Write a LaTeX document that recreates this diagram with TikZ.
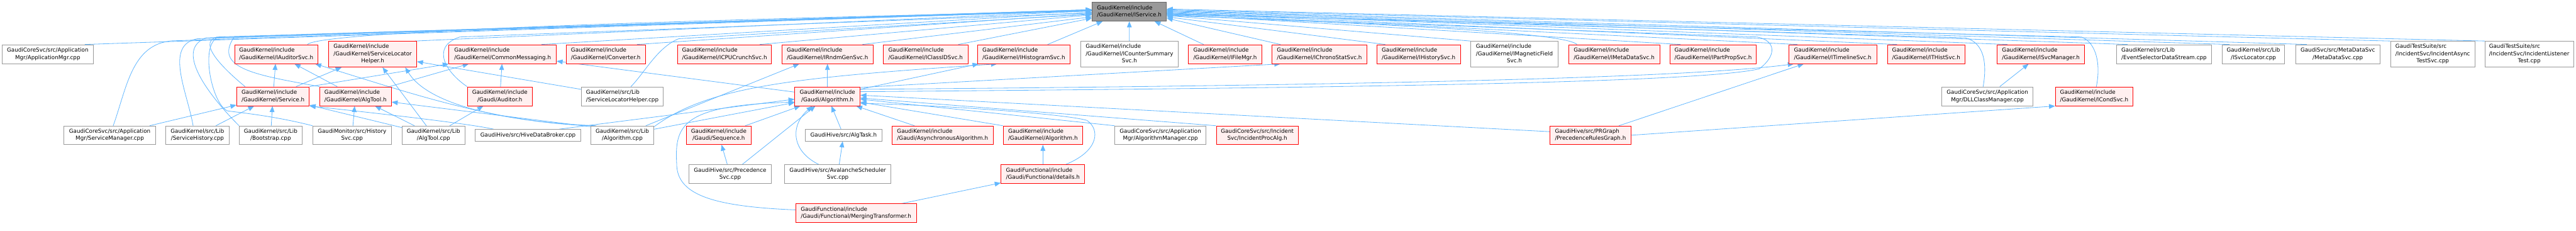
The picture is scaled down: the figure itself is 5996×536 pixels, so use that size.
\documentclass[tikz,border=0pt]{standalone}
\usepackage{fontspec}
\setmainfont{DejaVu Sans}
\usetikzlibrary{arrows.meta}
\pgfdeclarelayer{bg}
\pgfdeclarelayer{edgelayer}
\pgfsetlayers{bg,edgelayer,main}
\definecolor{edgeblue}{HTML}{63B8FF}
\definecolor{redfill}{HTML}{FFF0F0}
\definecolor{grayborder}{HTML}{999999}
\definecolor{topfill}{HTML}{999999}
\definecolor{topborder}{HTML}{666666}
\newcommand\twoL[2]{\begin{tabular}{@{}l@{}}#1\\\multicolumn{1}{@{}c@{}}{#2}\end{tabular}}
\newcommand\threeL[3]{\begin{tabular}{@{}l@{}}#1\\#2\\\multicolumn{1}{@{}c@{}}{#3}\end{tabular}}
\begin{document}
\begin{tikzpicture}[x=1pt,y=-1pt,
  box/.style={rectangle, draw, line width=1.2pt, inner sep=0pt, text=black,
    font=\fontsize{12.85}{16.7}\selectfont},
  rbox/.style={box, draw=red, fill=redfill},
  wbox/.style={box, draw=grayborder, fill=white},
  gbox/.style={box, draw=topborder, fill=topfill},
  sz/.style 2 args={minimum width=#1pt, minimum height=#2pt},
  edge/.style={draw=edgeblue, line width=1.2pt, -{Triangle[length=14pt,width=11pt]}},
]
\begin{pgfonlayer}{bg}
\fill[white] (0,0) rectangle (5996,536);
\end{pgfonlayer}
\useasboundingbox (0,0) rectangle (5996,536);

% ---------- row 1
\node[gbox,sz={173}{44}] (ISvc) at (2628.5,27) {\twoL{GaudiKernel/include}{/GaudiKernel/IService.h}};

% ---------- row 2
\node[wbox,sz={212}{44}] (AppMgr) at (111,126) {\twoL{GaudiCoreSvc/src/Application}{Mgr/ApplicationMgr.cpp}};
\node[rbox,sz={194}{44}] (IAuditor) at (643,126) {\twoL{GaudiKernel/include}{/GaudiKernel/IAuditorSvc.h}};
\node[rbox,sz={205}{60}] (SLHh) at (867.5,126) {\threeL{GaudiKernel/include}{/GaudiKernel/ServiceLocator}{Helper.h}};
\node[rbox,sz={250}{44}] (CommonMsg) at (1170,126) {\twoL{GaudiKernel/include}{/GaudiKernel/CommonMessaging.h}};
\node[rbox,sz={184}{44}] (Converter) at (1410,126) {\twoL{GaudiKernel/include}{/GaudiKernel/Converter.h}};
\node[rbox,sz={219}{44}] (ICPUCrunch) at (1686.5,126) {\twoL{GaudiKernel/include}{/GaudiKernel/ICPUCrunchSvc.h}};
\node[rbox,sz={212}{44}] (IRndmGen) at (1926,126) {\twoL{GaudiKernel/include}{/GaudiKernel/IRndmGenSvc.h}};
\node[rbox,sz={197}{44}] (IClassID) at (2154.5,126) {\twoL{GaudiKernel/include}{/GaudiKernel/IClassIDSvc.h}};
\node[rbox,sz={216}{44}] (IHistogram) at (2383,126) {\twoL{GaudiKernel/include}{/GaudiKernel/IHistogramSvc.h}};
\node[wbox,sz={226}{60}] (ICounterSummary) at (2629,126) {\threeL{GaudiKernel/include}{/GaudiKernel/ICounterSummary}{Svc.h}};
\node[rbox,sz={171}{44}] (IFileMgr) at (2851.5,126) {\twoL{GaudiKernel/include}{/GaudiKernel/IFileMgr.h}};
\node[rbox,sz={220}{44}] (IChronoStat) at (3071,126) {\twoL{GaudiKernel/include}{/GaudiKernel/IChronoStatSvc.h}};
\node[rbox,sz={194}{44}] (IHistory) at (3302,126) {\twoL{GaudiKernel/include}{/GaudiKernel/IHistorySvc.h}};
\node[wbox,sz={204}{60}] (IMagField) at (3525,126) {\threeL{GaudiKernel/include}{/GaudiKernel/IMagneticField}{Svc.h}};
\node[rbox,sz={212}{44}] (IMetaData) at (3757,126) {\twoL{GaudiKernel/include}{/GaudiKernel/IMetaDataSvc.h}};
\node[rbox,sz={201}{44}] (IPartProp) at (3987.5,126) {\twoL{GaudiKernel/include}{/GaudiKernel/IPartPropSvc.h}};
\node[rbox,sz={204}{44}] (ITimeline) at (4266,126) {\twoL{GaudiKernel/include}{/GaudiKernel/ITimelineSvc.h}};
\node[rbox,sz={181}{44}] (ITHist) at (4483.5,126) {\twoL{GaudiKernel/include}{/GaudiKernel/ITHistSvc.h}};
\node[rbox,sz={203}{44}] (ISvcManager) at (4750.5,126) {\twoL{GaudiKernel/include}{/GaudiKernel/ISvcManager.h}};
\node[wbox,sz={220}{44}] (EvtSel) at (5037,126) {\twoL{GaudiKernel/src/Lib}{/EventSelectorDataStream.cpp}};
\node[wbox,sz={146}{44}] (ISvcLocCpp) at (5245,126) {\twoL{GaudiKernel/src/Lib}{/ISvcLocator.cpp}};
\node[wbox,sz={197}{44}] (MetaDataCpp) at (5441.5,126) {\twoL{GaudiSvc/src/MetaDataSvc}{/MetaDataSvc.cpp}};
\node[wbox,sz={197}{60}] (IncAsync) at (5662.5,126) {\threeL{GaudiTestSuite/src}{/IncidentSvc/IncidentAsync}{TestSvc.cpp}};
\node[wbox,sz={206}{60}] (IncListener) at (5887,126) {\threeL{GaudiTestSuite/src}{/IncidentSvc/IncidentListener}{Test.cpp}};

% ---------- row 3
\node[rbox,sz={169}{44}] (ServiceH) at (635.5,224) {\twoL{GaudiKernel/include}{/GaudiKernel/Service.h}};
\node[rbox,sz={167}{44}] (AlgToolH) at (827.5,224) {\twoL{GaudiKernel/include}{/GaudiKernel/AlgTool.h}};
\node[rbox,sz={151}{44}] (AuditorH) at (1163.5,224) {\twoL{GaudiKernel/include}{/Gaudi/Auditor.h}};
\node[wbox,sz={191}{44}] (SLHcpp) at (1448.5,224) {\twoL{GaudiKernel/src/Lib}{/ServiceLocatorHelper.cpp}};
\node[rbox,sz={152}{44}] (GAlgH) at (1926,224) {\twoL{GaudiKernel/include}{/Gaudi/Algorithm.h}};
\node[wbox,sz={212}{44}] (DLLCM) at (4626,224) {\twoL{GaudiCoreSvc/src/Application}{Mgr/DLLClassManager.cpp}};
\node[rbox,sz={181}{44}] (ICond) at (4874.5,224) {\twoL{GaudiKernel/include}{/GaudiKernel/ICondSvc.h}};

% ---------- row 4
\node[wbox,sz={213}{43}] (SvcMgr) at (255.5,314.5) {\twoL{GaudiCoreSvc/src/Application}{Mgr/ServiceManager.cpp}};
\node[wbox,sz={147}{43}] (SvcHist) at (459.5,314.5) {\twoL{GaudiKernel/src/Lib}{/ServiceHistory.cpp}};
\node[wbox,sz={146}{43}] (Bootstrap) at (630,314.5) {\twoL{GaudiKernel/src/Lib}{/Bootstrap.cpp}};
\node[wbox,sz={183}{43}] (HistSvcCpp) at (819.5,314.5) {\twoL{GaudiMonitor/src/History}{Svc.cpp}};
\node[wbox,sz={146}{43}] (AlgToolCpp) at (1009,314.5) {\twoL{GaudiKernel/src/Lib}{/AlgTool.cpp}};
\node[wbox,sz={246}{27}] (HiveDB) at (1229,314.5) {GaudiHive/src/HiveDataBroker.cpp};
\node[wbox,sz={147}{43}] (AlgCpp) at (1448.5,314.5) {\twoL{GaudiKernel/src/Lib}{/Algorithm.cpp}};
\node[rbox,sz={152}{43}] (Sequence) at (1673,314.5) {\twoL{GaudiKernel/include}{/Gaudi/Sequence.h}};
\node[wbox,sz={179}{27}] (AlgTask) at (1963.5,314.5) {GaudiHive/src/AlgTask.h};
\node[rbox,sz={236}{43}] (AsyncAlg) at (2194,314.5) {\twoL{GaudiKernel/include}{/Gaudi/AsynchronousAlgorithm.h}};
\node[rbox,sz={185}{43}] (GKAlgH) at (2427.5,314.5) {\twoL{GaudiKernel/include}{/GaudiKernel/Algorithm.h}};
\node[wbox,sz={212}{43}] (AlgMgr) at (2701,314.5) {\twoL{GaudiCoreSvc/src/Application}{Mgr/AlgorithmManager.cpp}};
\node[rbox,sz={191}{43}] (IncProcAlg) at (2926.5,314.5) {\twoL{GaudiCoreSvc/src/Incident}{Svc/IncidentProcAlg.h}};
\node[rbox,sz={188}{43}] (PRGraph) at (3702,314.5) {\twoL{GaudiHive/src/PRGraph}{/PrecedenceRulesGraph.h}};

% ---------- row 5
\node[wbox,sz={193}{44}] (PrecSvc) at (1699.5,405) {\twoL{GaudiHive/src/Precedence}{Svc.cpp}};
\node[wbox,sz={248}{44}] (Avalanche) at (1950,405) {\twoL{GaudiHive/src/AvalancheScheduler}{Svc.cpp}};
\node[rbox,sz={195}{44}] (Details) at (2427.5,405) {\twoL{GaudiFunctional/include}{/Gaudi/Functional/details.h}};

% ---------- row 6
\node[rbox,sz={281}{43}] (Merging) at (1992.5,495.5) {\twoL{GaudiFunctional/include}{/Gaudi/Functional/MergingTransformer.h}};

% ---------- way points
\coordinate (wA) at (400,95);
\coordinate (wB) at (460,90);
\coordinate (wC) at (480,88);
\coordinate (wD) at (505,86);
\coordinate (wE1) at (530,258);
\coordinate (wE2) at (505,88);
\coordinate (wF) at (545,86);
\coordinate (wG) at (1070,86);
\coordinate (wH) at (1580,90);
\coordinate (wI) at (4575,88);
\coordinate (wJ) at (4845,86);
\coordinate (wK1) at (4095,160);
\coordinate (wK2) at (4090,86);
\coordinate (wDt) at (2530,280);
\coordinate (wM) at (1575,380);

\begin{pgfonlayer}{edgelayer}
% row 2 (left) -> IService
\draw[edge] ([xshift=-20pt]AppMgr.north east) -- (ISvc.178);
\draw[edge] ([xshift=-25pt]IAuditor.north east) .. controls (757,62) and (2242,34) .. (ISvc.178);
\draw[edge] ([xshift=-5pt]SLHh.north east) -- (ISvc.179);
\draw[edge] ([xshift=-35pt]CommonMsg.north east) -- (ISvc.181);
\draw[edge] ([xshift=-20pt]Converter.north east) -- (ISvc.183);
\draw[edge] ([xshift=-28pt]ICPUCrunch.north east) -- (ISvc.185);
\draw[edge] ([xshift=-25pt]IRndmGen.north east) -- (ISvc.188);
\draw[edge] ([xshift=-23pt]IClassID.north east) -- (ISvc.190);
\draw[edge] ([xshift=-53pt]IHistogram.north east) -- (ISvc.200);
\draw[edge] (ICounterSummary) -- (ISvc);
\draw[edge] ([xshift=36pt]IFileMgr.north west) -- (ISvc.-21);
\draw[edge] ([xshift=20pt]IChronoStat.north west) -- (ISvc.-10);
% row 2 (right) -> IService
\draw[edge] ([xshift=20pt]IHistory.north west) -- (ISvc.-8);
\draw[edge] (IMagField.north west) -- (ISvc.-6);
\draw[edge] ([xshift=20pt]IMetaData.north west) .. controls (3636,69) and (3015,50) .. (ISvc.-5);
\draw[edge] ([xshift=25pt]IPartProp.north west) -- (ISvc.-4);
\draw[edge] ([xshift=20pt]ITimeline.north west) -- (ISvc.-3);
\draw[edge] ([xshift=23pt]ITHist.north west) -- (ISvc.-2);
\draw[edge] ([xshift=24pt]ISvcManager.north west) -- (ISvc.-1);
\draw[edge] ([xshift=26pt]EvtSel.north west) -- (ISvc.0);
\draw[edge] ([xshift=18pt]ISvcLocCpp.north west) -- (ISvc.1);
\draw[edge] ([xshift=27pt]MetaDataCpp.north west) -- (ISvc.2);
\draw[edge] (IncAsync.north west) -- (ISvc.3);
\draw[edge] (IncListener.north west) -- (ISvc.4);
% lower nodes -> IService (routed)
\draw[edge] ([xshift=8pt]SvcMgr.north) .. controls (295,205) and (306,103) .. (wA) -- (ISvc.177);
\draw[edge] ([xshift=-10pt]SvcHist.north) .. controls (436,214) and (381,104) .. (wB) -- (ISvc.177);
\draw[edge] (Bootstrap.north west) .. controls (497,233) and (400,117) .. (wC) -- (ISvc.177);
\draw[edge] ([xshift=-65pt]ServiceH.north) .. controls (531,169) and (455,100) .. (wD) -- (ISvc.178);
\draw[edge] (HistSvcCpp.north west) .. controls (640,270) and (560,262) .. (wE1) .. controls (495,245) and (465,110) .. (wE2) -- (ISvc.178);
\draw[edge] (AlgToolH.north west) .. controls (600,175) and (495,160) .. (wF) -- (ISvc.179);
\draw[edge] (AuditorH.north west) .. controls (1040,170) and (1000,110) .. (wG) -- (ISvc.182);
\draw[edge] ([xshift=20pt]SLHcpp.north) .. controls (1500,170) and (1530,110) .. (wH) -- (ISvc.184);
\draw[edge] ([xshift=-10pt]DLLCM.north) .. controls (4625,150) and (4620,100) .. (wI) -- (ISvc.-3);
\draw[edge] ([xshift=5pt]ICond.north) .. controls (4890,150) and (4880,100) .. (wJ) -- (ISvc.-4);
\draw[edge] (GAlgH.8) .. controls (3000,205) and (3950,195) .. (wK1) .. controls (4135,130) and (4135,95) .. (wK2) -- (ISvc.-6);
% IAuditorSvc
\draw[edge] (ServiceH) -- (IAuditor);
\draw[edge] (AlgToolH) -- (IAuditor);
\draw[edge] (AlgCpp.163) .. controls (1150,285) and (950,215) .. (IAuditor.-14);
% ServiceLocatorHelper.h
\draw[edge] (ServiceH) -- (SLHh);
\draw[edge] (AlgToolCpp) -- (SLHh);
\draw[edge] (AlgCpp.160) .. controls (1200,285) and (1000,250) .. (SLHh.-22);
\draw[edge] (SLHcpp) -- (SLHh);
% CommonMessaging.h
\draw[edge] (AuditorH) -- (CommonMsg);
\draw[edge] (ServiceH.north east) -- (CommonMsg.south west);
\draw[edge] (AlgToolH) -- (CommonMsg);
\draw[edge] (GAlgH) -- (CommonMsg);
% Service.h
\draw[edge] (Bootstrap) -- (ServiceH);
\draw[edge] (SvcMgr) -- (ServiceH);
\draw[edge] (SvcHist) -- (ServiceH);
\draw[edge] (AlgToolCpp) -- (ServiceH);
\draw[edge] (HiveDB.170) .. controls (1080,285) and (800,255) .. (ServiceH.south east);
% AlgTool.h
\draw[edge] (HistSvcCpp) -- (AlgToolH);
\draw[edge] (AlgToolCpp) -- (AlgToolH);
\draw[edge] (AlgCpp.165) -- (AlgToolH.-9);
% Auditor.h
\draw[edge] (AlgToolCpp) -- (AuditorH);
% IRndmGenSvc.h, IHistogramSvc.h, IChronoStatSvc.h, ITimelineSvc.h
\draw[edge] (GAlgH) -- (IRndmGen);
\draw[edge] (AlgCpp.22) -- (IRndmGen.199);
\draw[edge] (GAlgH) -- (IHistogram);
\draw[edge] (AlgCpp.15) .. controls (1650,200) and (1850,180) .. (IHistogram.200);
\draw[edge] (GAlgH.15) -- (IChronoStat.194);
\draw[edge] (GAlgH.12) .. controls (3000,200) and (3900,185) .. (ITimeline.194);
\draw[edge] (PRGraph) -- (ITimeline);
\draw[edge] (PRGraph.east) -- (ICond.south west);
\draw[edge] (DLLCM) -- (ISvcManager);
% Gaudi/Algorithm.h
\draw[edge] (PRGraph.175) -- (GAlgH.2);
\draw[edge] (AlgTask) -- (GAlgH);
\draw[edge] (Avalanche) -- (AlgTask);
\draw[edge] (Avalanche.153) .. controls (1840,350) and (1840,290) .. (GAlgH.213);
\draw[edge] (AsyncAlg) -- (GAlgH);
\draw[edge] (GKAlgH.north west) -- (GAlgH.-10);
\draw[edge] (Details) -- (GKAlgH);
\draw[edge] (Details.23) .. controls (2560,350) and (2560,300) .. (wDt) .. controls (2480,265) and (2200,245) .. (GAlgH.-12);
\draw[edge] (Merging) -- (Details);
\draw[edge] (Merging.177) .. controls (1650,480) and (1575,450) .. (wM) .. controls (1570,290) and (1590,245) .. (GAlgH.190);
\draw[edge] (Sequence) -- (GAlgH);
\draw[edge] (PrecSvc) -- (Sequence);
\draw[edge] (PrecSvc) -- (GAlgH);
\draw[edge] (AlgCpp) -- (GAlgH);
\draw[edge] (HiveDB.11) -- (GAlgH.185);
\draw[edge] (AlgMgr.north west) -- (GAlgH.-5);
\draw[edge] (IncProcAlg.north west) -- (GAlgH.-3);
\end{pgfonlayer}
\end{tikzpicture}
\end{document}
